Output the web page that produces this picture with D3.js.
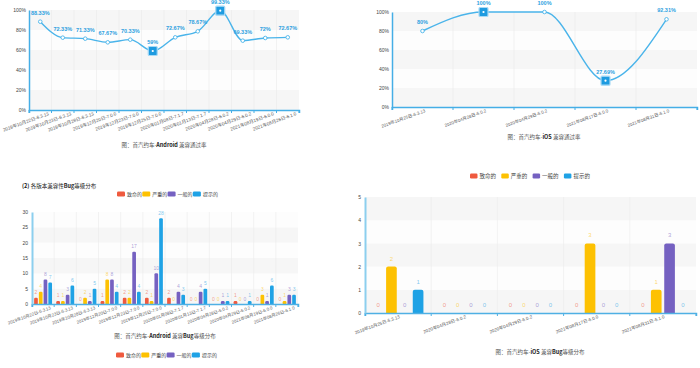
<!DOCTYPE html>
<html><head><meta charset="utf-8">
<script src="https://cdn.jsdelivr.net/npm/d3@7"></script>
<style>
html,body{margin:0;padding:0;background:#fff;}
svg{display:block;font-family:"Liberation Sans","Noto Sans CJK SC",sans-serif;}
</style></head>
<body>
<svg id="chart" width="700" height="368"></svg>
<script>
// ---------- DATA ----------
const androidCategories = ["2019年10月22日-6.3.13","2019年10月23日-6.3.13","2019年10月28日-6.3.13","2019年12月20日-7.0.0","2019年12月23日-7.0.0","2019年12月25日-7.0.0","2020年01月08日-7.1.7","2020年01月13日-7.1.7","2020年04月28日-6.0.2","2020年04月29日-6.0.2","2021年08月19日-6.0.0","2021年08月26日-6.1.0"];
const androidPassRate = [88.33, 72.33, 71.33, 67.67, 70.33, 59, 72.67, 78.67, 99.33, 69.33, 72, 72.67];
const iosCategories = ["2019年10月25日-6.3.13","2020年04月28日-6.0.2","2020年04月29日-6.0.2","2021年08月17日-6.0.0","2021年08月31日-6.1.0"];
const iosPassRate = [80, 100, 100, 27.69, 92.31];
const percentTicks = [0, 20, 40, 60, 80, 100];
const bugLevels = ["致命的", "严重的", "一般的", "提示的"];
const androidFatal   = [2, 1, 0, 1, 2, 2, 2, 0, 0, 1, 0, 0];
const androidSerious = [4, 1, 2, 8, 2, 1, 0, 0, 0, 0, 3, 1];
const androidGeneral = [8, 3, 1, 8, 17, 10, 4, 4, 1, 0, 1, 3];
const androidHint    = [7, 6, 5, 4, 4, 28, 3, 5, 1, 1, 6, 3];
const androidBugTicks = [0, 5, 10, 15, 20, 25, 30];
const iosFatal   = [0, 0, 0, 0, 0];
const iosSerious = [2, 0, 0, 3, 1];
const iosGeneral = [0, 0, 0, 0, 3];
const iosHint    = [1, 0, 0, 0, 0];
const iosBugTicks = [0, 1, 2, 3, 4, 5];

// ---------- STYLE ----------
const levelColors = ["#ef5a3e", "#fdc102", "#7561c1", "#1fa2e5"];
const lineColor = "#4ab4ea";
const axisBlue = "#45aee6";
const svg = d3.select("#chart");
svg.append("rect").attr("width",700).attr("height",368).attr("fill","#fff");

function splitAreas(g, y, ticks, x0, x1) {
  for (let i = 0; i < ticks.length - 1; i++) {
    g.append("rect").attr("x", x0).attr("width", x1 - x0)
      .attr("y", y(ticks[i+1])).attr("height", y(ticks[i]) - y(ticks[i+1]))
      .attr("fill", i % 2 === 0 ? "#f6f6f6" : "#fdfdfd");
  }
}

function xLabels(g, x, cats, yBase, dx, fs) {
  cats.forEach(c => {
    const cx = x(c) + x.bandwidth()/2 + dx;
    g.append("text").attr("transform", `translate(${cx},${yBase}) rotate(-20)`)
      .attr("text-anchor","end").attr("font-size",fs).attr("fill","#555").text(c);
  });
}

function lineChart(o) {
  const g = svg.append("g");
  const x = d3.scaleBand().domain(o.cats).range([o.x0, o.x1]);
  const y = d3.scaleLinear().domain([0, 100]).range([o.yb, o.yt]);
  splitAreas(g, y, percentTicks, o.x0, o.x1);
  o.cats.forEach((c, i) => {
    if (i > 0) g.append("line").attr("x1", x(c)).attr("x2", x(c)).attr("y1", o.yt).attr("y2", o.yb).attr("stroke","#ebebeb").attr("stroke-width",0.6);
  });
  const ax = g.append("g").attr("transform",`translate(0,${o.yb})`).call(d3.axisBottom(x).tickSize(3).tickFormat(""));
  ax.select(".domain").attr("stroke", axisBlue).attr("stroke-width",1.5);
  ax.selectAll(".tick").attr("transform", d => `translate(${x(d)},0)`);
  ax.selectAll(".tick line").attr("stroke", axisBlue);
  g.append("line").attr("x1", o.x1).attr("x2", o.x1).attr("y1", o.yb).attr("y2", o.yb+3).attr("stroke", axisBlue);
  const ay = g.append("g").attr("transform",`translate(${o.x0},0)`).call(d3.axisLeft(y).tickValues(percentTicks).tickSize(0).tickPadding(3).tickFormat(d => d + "%"));
  ay.select(".domain").attr("stroke", axisBlue).attr("stroke-width",1.5);
  ay.selectAll("text").attr("font-size",5).attr("fill","#444");
  xLabels(g, x, o.cats, o.yb + 5, o.ldx, o.lfs);
  const pts = o.vals.map((v, i) => [x(o.cats[i]) + x.bandwidth()/2, y(v)]);
  g.append("path").attr("d", d3.line().curve(d3.curveMonotoneX)(pts)).attr("fill","none").attr("stroke", lineColor).attr("stroke-width",1.4);
  const mx = d3.max(o.vals), mn = d3.min(o.vals);
  pts.forEach((p, i) => {
    const v = o.vals[i];
    if ((v === mx && o.vals.indexOf(mx) === i) || v === mn) {
      g.append("rect").attr("x", p[0]-4.5).attr("y", p[1]-4.5).attr("width",9).attr("height",9).attr("rx",1)
        .attr("fill","#1e9be0").attr("stroke","#a8daf6").attr("stroke-width",1.2);
      g.append("circle").attr("cx", p[0]).attr("cy", p[1]).attr("r",1.1).attr("fill","#fff");
    } else {
      g.append("circle").attr("cx", p[0]).attr("cy", p[1]).attr("r",1.8).attr("fill","#fff").attr("stroke", lineColor).attr("stroke-width",0.9);
    }
    g.append("text").attr("x", p[0]).attr("y", p[1] - 7).attr("text-anchor","middle")
      .attr("font-size",5.5).attr("font-weight","bold").attr("fill","#2d9fe0").text(v + "%");
  });
  caption(o.capX, o.capY, o.capParts);
}

function caption(cx, cy, parts) {
  const t = svg.append("text").attr("x", cx).attr("y", cy).attr("text-anchor","middle").attr("font-size",5.5).attr("fill","#555")
    .attr("font-family","'Noto Sans CJK SC',sans-serif");
  parts.forEach(p => t.append("tspan").attr("font-weight", p[1] ? "bold" : "normal").attr("fill", p[1] ? "#222" : "#555").text(p[0]));
}

function legend(x0, y0, step, fs, sw) {
  const g = svg.append("g");
  bugLevels.forEach((l, i) => {
    g.append("rect").attr("x", x0 + i*step).attr("y", y0 - 2.5).attr("width", sw).attr("height",5).attr("rx",1.2).attr("fill", levelColors[i]);
    g.append("text").attr("x", x0 + i*step + sw + 2).attr("y", y0 + 1.8).attr("font-size", fs).attr("fill","#444")
      .attr("font-family","'Noto Sans CJK SC',sans-serif").text(l);
  });
}

function barChart(o) {
  const g = svg.append("g");
  const x = d3.scaleBand().domain(o.cats).range([o.x0, o.x1]);
  const inner = d3.scaleBand().domain(bugLevels).range([0, o.step*4]).padding(o.pad);
  const maxT = o.ticks[o.ticks.length-1];
  const y = d3.scaleLinear().domain([0, maxT]).range([o.yb, o.yt]);
  splitAreas(g, y, o.ticks, o.x0, o.x1);
  o.cats.forEach((c, i) => {
    if (i > 0) g.append("line").attr("x1", x(c)).attr("x2", x(c)).attr("y1", o.yt).attr("y2", o.yb).attr("stroke","#ebebeb").attr("stroke-width",0.6);
  });
  const series = [o.s0, o.s1, o.s2, o.s3];
  o.cats.forEach((c, i) => {
    const base = x(c) + x.bandwidth()/2 - o.step*2;
    series.forEach((s, k) => {
      const v = s[i];
      const bx = base + inner(bugLevels[k]);
      const bw = inner.bandwidth();
      if (v > 0) {
        const h = y(0) - y(v);
        const r = Math.min(o.r, h/2);
        g.append("path").attr("fill", levelColors[k]).attr("d",
          `M${bx},${y(0)}V${y(v)+r}Q${bx},${y(v)} ${bx+r},${y(v)}H${bx+bw-r}Q${bx+bw},${y(v)} ${bx+bw},${y(v)+r}V${y(0)}Z`);
      }
      g.append("text").attr("x", bx + bw/2).attr("y", y(v) - o.lgap).attr("text-anchor","middle")
        .attr("font-size", o.fs).attr("fill", levelColors[k]).attr("fill-opacity",0.6).text(v);
    });
  });
  const ax = g.append("g").attr("transform",`translate(0,${o.yb})`).call(d3.axisBottom(x).tickSize(3).tickFormat(""));
  ax.select(".domain").attr("stroke", "#4fb0e4").attr("stroke-width",1.5);
  ax.selectAll(".tick").attr("transform", d => `translate(${x(d)},0)`);
  ax.selectAll(".tick line").attr("stroke", "#4fb0e4");
  g.append("line").attr("x1", o.x1).attr("x2", o.x1).attr("y1", o.yb).attr("y2", o.yb+3).attr("stroke", "#4fb0e4");
  const ay = g.append("g").attr("transform",`translate(${o.x0},0)`).call(d3.axisLeft(y).tickValues(o.ticks).tickSize(0).tickPadding(4).tickFormat(d3.format("d")));
  ay.select(".domain").attr("stroke", "#8ccfee").attr("stroke-width",2);
  ay.selectAll("text").attr("font-size",5).attr("fill","#444");
  xLabels(g, x, o.cats, o.yb + 5, o.ldx, o.lfs);
}

// ---------- CHARTS ----------
lineChart({cats: androidCategories, vals: androidPassRate, x0: 29, x1: 299, yt: 10, yb: 110, ldx: 9, lfs: 4.6,
  capX: 164, capY: 147, capParts: [["图：首汽约车-",0],["Android",1],[" 兼容通过率",0]]});
lineChart({cats: iosCategories, vals: iosPassRate, x0: 392, x1: 697, yt: 12, yb: 107, ldx: 3, lfs: 4.4,
  capX: 544, capY: 139, capParts: [["图：首汽约车-",0],["iOS",1],[" 兼容通过率",0]]});

const st = svg.append("text").attr("x", 22).attr("y", 188).attr("font-size",5.5).attr("fill","#222").attr("font-family","'Noto Sans CJK SC',sans-serif");
st.append("tspan").attr("font-weight","bold").text("(2) ");
st.append("tspan").text("各版本兼容性");
st.append("tspan").attr("font-weight","bold").text("Bug");
st.append("tspan").text("等级分布");

legend(117, 194, 25.3, 5, 8);
barChart({cats: androidCategories, s0: androidFatal, s1: androidSerious, s2: androidGeneral, s3: androidHint,
  x0: 32, x1: 298, yt: 212, yb: 304, ticks: androidBugTicks, step: 5, pad: 0.22, r: 1.2, lgap: 3.5, fs: 5, ldx: 8, lfs: 4.3});
caption(165, 338, [["图：首汽约车-",0],["Android",1],[" 兼容",0],["Bug",1],["等级分布",0]]);
legend(116, 355, 25.3, 5, 8);

legend(470, 176, 31.3, 5.5, 7.5);
barChart({cats: iosCategories, s0: iosFatal, s1: iosSerious, s2: iosGeneral, s3: iosHint,
  x0: 365, x1: 696, yt: 197, yb: 313, ticks: iosBugTicks, step: 14, pad: 0.2, r: 2, lgap: 6, fs: 6, ldx: 2, lfs: 4.5});
caption(540, 354, [["图：首汽约车-",0],["iOS",1],[" 兼容",0],["Bug",1],["等级分布",0]]);
</script>
</body></html>
